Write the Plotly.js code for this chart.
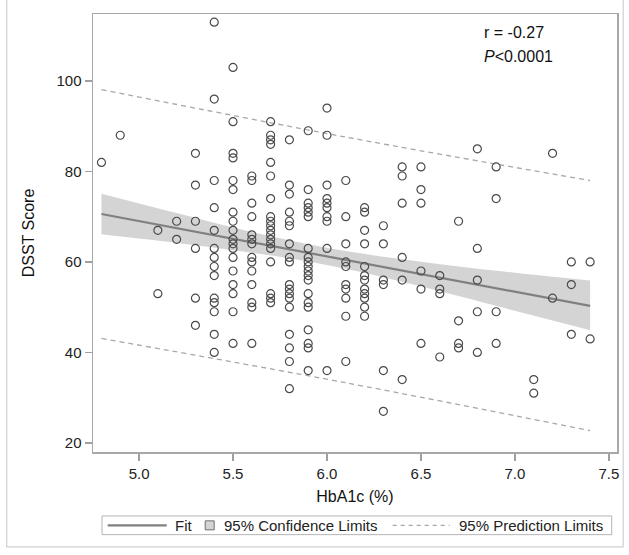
<!DOCTYPE html>
<html>
<head>
<meta charset="utf-8">
<script src="https://cdn.plot.ly/plotly-3.0.1.min.js"></script>
<style>html,body{margin:0;padding:0;background:#fff;}#chart{width:629px;height:555px;}</style>
</head>
<body>
<div id="chart"></div>
<script>
// HbA1c levels (%) and the DSST scores observed at each level
const hba1cLevels = [4.8, 4.9, 5.1, 5.2, 5.3, 5.4, 5.5, 5.6, 5.7, 5.8, 5.9, 6.0, 6.1, 6.2, 6.3, 6.4, 6.5, 6.6, 6.7, 6.8, 6.9, 7.1, 7.2, 7.3, 7.4];
const dsstAt48 = [82];
const dsstAt49 = [88];
const dsstAt51 = [67, 53];
const dsstAt52 = [69, 65];
const dsstAt53 = [84, 77, 69, 63, 52, 46];
const dsstAt54 = [113, 96, 78, 72, 67, 63, 61, 59, 57, 52, 51, 49, 44, 40];
const dsstAt55 = [103, 91, 84, 83, 78, 76, 71, 69, 67, 65, 64, 63, 61, 58, 55, 53, 49, 42];
const dsstAt56 = [79, 78, 73, 70, 66, 65, 64, 61, 60, 58, 55, 51, 50, 42];
const dsstAt57 = [91, 88, 87, 86, 82, 79, 74, 70, 69, 68, 67, 66, 65, 64, 63, 60, 53, 52, 51];
const dsstAt58 = [87, 77, 75, 71, 69, 68, 64, 61, 60, 55, 54, 53, 52, 50, 44, 41, 38, 32];
const dsstAt59 = [89, 76, 73, 72, 71, 70, 63, 61, 60, 59, 58, 57, 56, 53, 51, 50, 45, 42, 41, 36];
const dsstAt60 = [94, 88, 77, 74, 73, 72, 70, 69, 63, 36];
const dsstAt61 = [78, 70, 64, 60, 59, 55, 54, 52, 48, 38];
const dsstAt62 = [72, 71, 67, 64, 59, 57, 56, 54, 53, 52, 50, 48];
const dsstAt63 = [68, 64, 56, 55, 36, 27];
const dsstAt64 = [81, 79, 73, 61, 56, 34];
const dsstAt65 = [81, 76, 73, 58, 54, 42];
const dsstAt66 = [57, 54, 53, 39];
const dsstAt67 = [69, 47, 42, 41];
const dsstAt68 = [85, 63, 56, 49, 40];
const dsstAt69 = [81, 74, 49, 42];
const dsstAt71 = [34, 31];
const dsstAt72 = [84, 52];
const dsstAt73 = [60, 55, 44];
const dsstAt74 = [60, 43];
const dsstByLevel = [dsstAt48, dsstAt49, dsstAt51, dsstAt52, dsstAt53, dsstAt54, dsstAt55, dsstAt56, dsstAt57, dsstAt58, dsstAt59, dsstAt60, dsstAt61, dsstAt62, dsstAt63, dsstAt64, dsstAt65, dsstAt66, dsstAt67, dsstAt68, dsstAt69, dsstAt71, dsstAt72, dsstAt73, dsstAt74];

// regression fit and limits
const fitX = [4.8, 7.4];
const fitY = [70.6, 50.3];
const clX = [4.8, 5.2, 5.5, 5.8, 6.1, 6.4, 6.7, 7.0, 7.4];
const clLower = [66.1, 64.2, 62.6, 60.8, 58.5, 55.6, 52.5, 49.2, 44.9];
const clUpper = [75.1, 70.8, 67.6, 64.8, 62.4, 60.6, 59.0, 57.6, 55.9];
const plX = [4.8, 6.1, 7.4];
const plUpper = [98.1, 87.6, 78.0];
const plLower = [43.1, 33.3, 22.7];

const xTicks = [5.0, 5.5, 6.0, 6.5, 7.0, 7.5];
const yTicks = [20, 40, 60, 80, 100];
const statLines = ['r = -0.27', '<i>P</i><0.0001'];
const legendLabels = ['Fit', '95% Confidence Limits', '95% Prediction Limits'];

// flatten the scatter
const xs = [], ys = [];
hba1cLevels.forEach((lv, i) => dsstByLevel[i].forEach(v => { xs.push(lv); ys.push(v); }));

const FONT = 'Liberation Sans, Arial, sans-serif';
const traces = [
  {x: clX, y: clLower, mode: 'lines', line: {width: 0, color: 'rgba(0,0,0,0)', shape: 'spline'}, showlegend: false, hoverinfo: 'skip'},
  {x: clX, y: clUpper, mode: 'lines', fill: 'tonexty', fillcolor: '#d4d4d4', line: {width: 0, color: 'rgba(0,0,0,0)', shape: 'spline'}, showlegend: false, hoverinfo: 'skip'},
  {x: plX, y: plUpper, mode: 'lines', line: {color: '#a8a8a8', width: 1.3, dash: '5px,4px', shape: 'spline'}, showlegend: false},
  {x: plX, y: plLower, mode: 'lines', line: {color: '#a8a8a8', width: 1.3, dash: '5px,4px', shape: 'spline'}, showlegend: false},
  {x: fitX, y: fitY, mode: 'lines', line: {color: '#808080', width: 2.2}, showlegend: false},
  {x: xs, y: ys, mode: 'markers', marker: {symbol: 'circle-open', size: 8, color: '#4a4a4a', line: {width: 1.2, color: '#4a4a4a'}}, showlegend: false}
];

// pixel -> paper helpers (plot area: left 93.3, top 14, width 524, height 438.3)
const L = 93.3, T = 14, W = 524, H = 438.3;
const px = p => (p - L) / W;
const py = p => (T + H - p) / H;

const shapes = [
  {type: 'rect', xref: 'paper', yref: 'paper', x0: px(7), x1: px(623.5), y0: py(547.3), y1: py(-5), line: {color: '#d0d0d0', width: 1.2}},
  {type: 'rect', xref: 'paper', yref: 'paper', x0: px(102.3), x1: px(612), y0: py(535), y1: py(516.3), line: {color: '#b4b4b4', width: 1}, fillcolor: '#ffffff'},
  {type: 'line', xref: 'paper', yref: 'paper', x0: px(108), x1: px(167), y0: py(525.7), y1: py(525.7), line: {color: '#808080', width: 2.2}},
  {type: 'rect', xref: 'paper', yref: 'paper', x0: px(205.5), x1: px(214.5), y0: py(530.2), y1: py(521.2), line: {color: '#707070', width: 1}, fillcolor: '#d4d4d4'},
  {type: 'line', xref: 'paper', yref: 'paper', x0: px(393), x1: px(450), y0: py(525.7), y1: py(525.7), line: {color: '#a8a8a8', width: 1.2, dash: '4px,4px'}}
];

const annotations = [
  {xref: 'paper', yref: 'paper', x: px(482), y: py(33), xanchor: 'left', yanchor: 'middle', text: statLines[0], showarrow: false, font: {family: FONT, size: 16, color: '#111'}},
  {xref: 'paper', yref: 'paper', x: px(482), y: py(57), xanchor: 'left', yanchor: 'middle', text: statLines[1], showarrow: false, font: {family: FONT, size: 16, color: '#111'}},
  {xref: 'paper', yref: 'paper', x: px(173), y: py(525.7), xanchor: 'left', yanchor: 'middle', text: legendLabels[0], showarrow: false, font: {family: FONT, size: 15, color: '#222'}},
  {xref: 'paper', yref: 'paper', x: px(222), y: py(525.7), xanchor: 'left', yanchor: 'middle', text: legendLabels[1], showarrow: false, font: {family: FONT, size: 15, color: '#222'}},
  {xref: 'paper', yref: 'paper', x: px(457), y: py(525.7), xanchor: 'left', yanchor: 'middle', text: legendLabels[2], showarrow: false, font: {family: FONT, size: 15, color: '#222'}}
];

const layout = {
  width: 629, height: 555,
  margin: {l: L, r: 629 - L - W, t: T, b: 555 - T - H},
  paper_bgcolor: '#fff', plot_bgcolor: '#fff',
  font: {family: FONT, color: '#222'},
  showlegend: false,
  xaxis: {
    range: [4.755, 7.543], tickvals: xTicks, ticktext: xTicks.map(v => v.toFixed(1)),
    ticks: 'outside', ticklen: 7, tickcolor: '#a0a0a0', tickwidth: 1.2,
    showline: true, linecolor: '#a8a8a8', linewidth: 1.5, mirror: true,
    showgrid: false, zeroline: false,
    tickfont: {family: FONT, size: 15, color: '#222'},
    title: {text: 'HbA1c (%)', font: {family: FONT, size: 16, color: '#111'}, standoff: 10}
  },
  yaxis: {
    range: [18.0, 114.8], tickvals: yTicks,
    ticks: 'outside', ticklen: 7, tickcolor: '#a0a0a0', tickwidth: 1.2,
    showline: true, linecolor: '#a8a8a8', linewidth: 1.5, mirror: true,
    showgrid: false, zeroline: false,
    tickfont: {family: FONT, size: 15, color: '#222'},
    title: {text: 'DSST Score', font: {family: FONT, size: 16, color: '#111'}, standoff: 18}
  },
  shapes: shapes,
  annotations: annotations
};

Plotly.newPlot('chart', traces, layout, {staticPlot: true, displayModeBar: false});
</script>
</body>
</html>
